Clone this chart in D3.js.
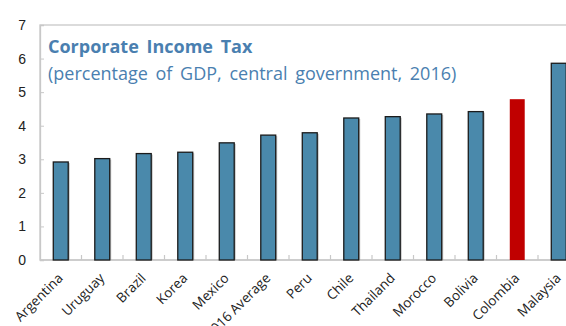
<!DOCTYPE html>
<html>
<head>
<meta charset="utf-8">
<script src="https://cdn.jsdelivr.net/npm/d3@7"></script>
<style>
  html, body { margin: 0; padding: 0; background: #fff; overflow: hidden; }
  svg { display: block; font-family: "Open Sans", "Noto Sans", sans-serif; }
</style>
</head>
<body>
<svg id="chart" width="566" height="326"></svg>
<script>
// Corporate income tax revenue, % of GDP (central government, 2016)
const countries = ["Argentina", "Uruguay", "Brazil", "Korea", "Mexico", "LAC-2016 Average",
  "Peru", "Chile", "Thailand", "Morocco", "Bolivia", "Colombia", "Malaysia"];
const values = [2.92, 3.02, 3.17, 3.21, 3.49, 3.72, 3.79, 4.23, 4.27, 4.35, 4.42, 4.79, 5.86];
const highlight = ["Colombia"];
const yTicks = [0, 1, 2, 3, 4, 5, 6, 7];
const titleText = "Corporate Income Tax";
const subtitleText = "(percentage of GDP, central government, 2016)";

const svg = d3.select("#chart");
const plotLeft = 40, plotTop = 25, plotBottom = 260, step = 41.5;
const plotRight = plotLeft + step * countries.length;

const x = d3.scaleBand()
  .domain(countries)
  .range([plotLeft, plotRight])
  .paddingInner(0.64)
  .paddingOuter(0.32);

const y = d3.scaleLinear().domain([0, 7]).range([plotBottom, plotTop]);

// plot frame
svg.append("rect")
  .attr("x", plotLeft).attr("y", plotTop)
  .attr("width", plotRight - plotLeft).attr("height", plotBottom - plotTop)
  .attr("fill", "none").attr("stroke", "#c8c8c8").attr("stroke-width", 1.3);

// y axis with inward ticks
const yAxis = svg.append("g").attr("transform", `translate(${plotLeft},0)`)
  .call(d3.axisLeft(y).tickValues(yTicks).tickSize(-4).tickPadding(14).tickFormat(d3.format("d")));
yAxis.select(".domain").attr("stroke", "#c8c8c8").attr("stroke-width", 1.3);
yAxis.selectAll(".tick line").attr("stroke", "#c8c8c8");
yAxis.selectAll(".tick text").attr("font-size", 14).attr("fill", "#222");

// x baseline with category boundary ticks
svg.append("line")
  .attr("x1", plotLeft).attr("x2", plotRight).attr("y1", plotBottom).attr("y2", plotBottom)
  .attr("stroke", "#c8c8c8").attr("stroke-width", 1.3);
svg.append("g").selectAll("line")
  .data(d3.range(1, countries.length))
  .join("line")
  .attr("x1", i => plotLeft + i * x.step()).attr("x2", i => plotLeft + i * x.step())
  .attr("y1", plotBottom).attr("y2", plotBottom - 5)
  .attr("stroke", "#c8c8c8").attr("stroke-width", 1.2);

// bars
const data = countries.map((c, i) => ({ c, v: values[i] }));
svg.append("g").selectAll("rect.shadow")
  .data(data.filter(d => !highlight.includes(d.c)))
  .join("rect")
  .attr("class", "shadow")
  .attr("x", d => x(d.c) + 1.5).attr("y", d => y(d.v) + 1)
  .attr("width", x.bandwidth()).attr("height", d => plotBottom - y(d.v) - 1)
  .attr("fill", "#9a9a9a").attr("opacity", 0.6);
svg.append("g").selectAll("rect.bar")
  .data(data)
  .join("rect")
  .attr("class", "bar")
  .attr("x", d => x(d.c)).attr("y", d => y(d.v))
  .attr("width", x.bandwidth()).attr("height", d => plotBottom - y(d.v))
  .attr("fill", d => highlight.includes(d.c) ? "#c00000" : "#4a89ab")
  .attr("stroke", d => highlight.includes(d.c) ? "none" : "#1b1b1b")
  .attr("stroke-width", 1.3);

// category labels
svg.append("g").selectAll("text")
  .data(countries)
  .join("text")
  .attr("transform", d => `translate(${x(d) + x.bandwidth() / 2 + 3},${plotBottom + 19}) rotate(-45)`)
  .attr("text-anchor", "end")
  .attr("font-size", 13.5)
  .attr("fill", "#222")
  .text(d => d);

// title block
svg.append("text")
  .attr("x", 48).attr("y", 52.5)
  .attr("font-size", 18).attr("font-weight", "bold")
  .attr("word-spacing", 3)
  .attr("fill", "#4a7fb0")
  .text(titleText);
svg.append("text")
  .attr("x", 48).attr("y", 79.5)
  .attr("font-size", 18)
  .attr("word-spacing", 3)
  .attr("fill", "#4a7fb0")
  .text(subtitleText);
</script>
</body>
</html>
